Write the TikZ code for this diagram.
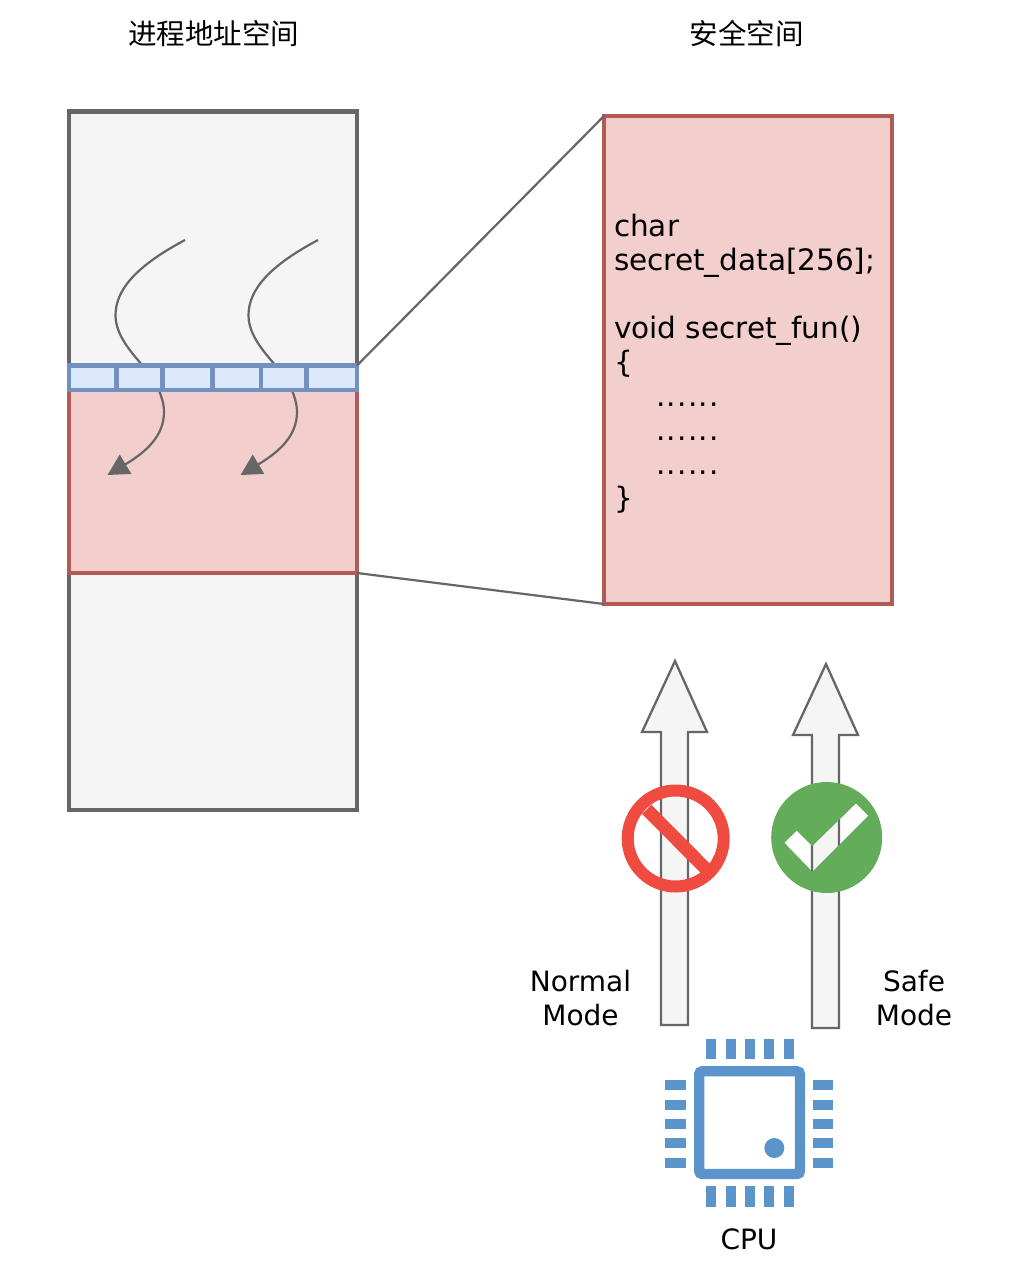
\documentclass[tikz,border=0pt]{standalone}
\usepackage{fontspec}
\setmainfont{DejaVu Sans}
\newfontfamily\cjkfont{Noto Sans CJK SC}
\usetikzlibrary{arrows.meta,positioning}
\definecolor{graystroke}{HTML}{666666}
\definecolor{grayfill}{HTML}{F5F5F5}
\definecolor{redstroke}{HTML}{B25A55}
\definecolor{redfill}{HTML}{F2CFCC}
\definecolor{bluestroke}{HTML}{7391C0}
\definecolor{bluefill}{HTML}{DCE8FB}
\definecolor{nored}{HTML}{EF4B40}
\definecolor{okgreen}{HTML}{62AC5A}
\definecolor{cpublue}{HTML}{5B94CB}
\newcommand{\sixdots}{\hspace{42pt}.\kern1.3pt.\kern1.3pt.\kern1.3pt.\kern1.3pt.\kern1.3pt.}
\tikzset{
  boxbase/.style={rectangle,inner sep=0pt,outer sep=0pt,line width=4.8pt,line join=miter,anchor=north west},
  grayspace/.style={boxbase,draw=graystroke,fill=grayfill},
  redspace/.style={boxbase,draw=redstroke,fill=redfill},
  bluecell/.style={boxbase,draw=bluestroke,fill=bluefill},
  zoomline/.style={draw=graystroke,line width=2.2pt},
  flow/.style={draw=graystroke,line width=2.2pt,-{Triangle[length=21pt,width=22pt,fill=graystroke]}},
  bigarrow/.style={draw=graystroke,fill=grayfill,line width=2.3pt,line join=miter},
  label/.style={inner sep=0pt,outer sep=0pt,align=center,font=\fontsize{28}{34}\selectfont},
  codetext/.style={inner sep=0pt,outer sep=0pt,align=left,anchor=north west,font=\fontsize{29.5}{34}\selectfont},
  title/.style={inner sep=0pt,outer sep=0pt,font=\cjkfont\fontsize{28.5}{34}\selectfont},
  pin/.style={fill=cpublue},
}
\begin{document}
\begin{tikzpicture}[x=1pt,y=-1pt]
\useasboundingbox[fill=white] (0,0) rectangle (1020,1280);

\node[title] (t1) at (213.5,34) {进程地址空间};
\node[title] (t2) at (746.5,34) {安全空间};

% address space
\node[grayspace,minimum width=288pt,minimum height=698.5pt] (space) at (69,111.5) {};
\node[redspace,minimum width=288pt,minimum height=183pt] (region) at (69,390) {};

% execution flows
\coordinate (f1s) at (185,240);
\coordinate (f1e) at (107.5,475);
\coordinate (f2s) at (318,240);
\coordinate (f2e) at (240.5,475);
\draw[flow] (f1s) .. controls (140,264) and (115,288) .. (115.5,316)
  .. controls (116,338) and (135,356) .. (148,372)
  .. controls (160,388) and (164,402) .. (164,412)
  .. controls (164,436) and (146,452) .. (f1e);
\draw[flow] (f2s) .. controls (273,264) and (248,288) .. (248.5,316)
  .. controls (249,338) and (268,356) .. (281,372)
  .. controls (293,388) and (297,402) .. (297,412)
  .. controls (297,436) and (279,452) .. (f2e);

% strip of cells
\node[bluecell,minimum width=288pt,minimum height=24.5pt] (strip) at (69,365.5) {};
\foreach \xx in {116.5,162.5,212.5,261,306.5}
  \draw[bluestroke,line width=4.6pt] (\xx,365.5) -- (\xx,390);

% secure space
\node[redspace,minimum width=288pt,minimum height=488pt] (secure) at (604,116) {};
\draw[zoomline] (strip.north east) -- (secure.north west);
\draw[zoomline] (region.south east) -- (secure.south west);
\node[codetext] (code) at (614,214.5) {char\\secret\_data[256];\\[34pt]void secret\_fun()\\\{\\\sixdots\\\sixdots\\\sixdots\\\}};

% mode arrows
\draw[bigarrow] (675,661) -- (707,732) -- (688,732) -- (688,1025) -- (661,1025) -- (661,732) -- (642,732) -- cycle;
\draw[bigarrow] (826,664) -- (858,735) -- (839,735) -- (839,1028) -- (812,1028) -- (812,735) -- (793,735) -- cycle;

% forbidden sign
\draw[nored,line width=12pt] (675.7,838.5) circle (48);
\draw[nored,line width=13pt] (646.7,809.3) -- (705.3,868.3);

% check sign
\fill[okgreen,even odd rule] (826.7,837.5) circle (55.5)
  (784.3,842.7) -- (796.7,830.7) -- (812.3,846) -- (856,803.3) -- (868.3,815.7) -- (812.3,871.7) -- cycle;

\node[label] (normal) at (580.5,998.5) {Normal\\Mode};
\node[label] (safe) at (914,998.5) {Safe\\Mode};

% CPU
\draw[cpublue,line width=10.3pt,rounded corners=3pt] (699.2,1071.3) rectangle (800,1174);
\fill[cpublue] (774.3,1148) circle (10);
\foreach \xx in {706,726,745,764,783.7}{
  \fill[pin] (\xx,1039) rectangle ++(10,20.3);
  \fill[pin] (\xx,1186) rectangle ++(10,21);
}
\foreach \yy in {1080,1100,1119,1138,1158}{
  \fill[pin] (665,\yy) rectangle ++(20.7,10);
  \fill[pin] (812.7,\yy) rectangle ++(20.3,10);
}
\node[label] (cpu) at (749,1239) {CPU};
\end{tikzpicture}
\end{document}
